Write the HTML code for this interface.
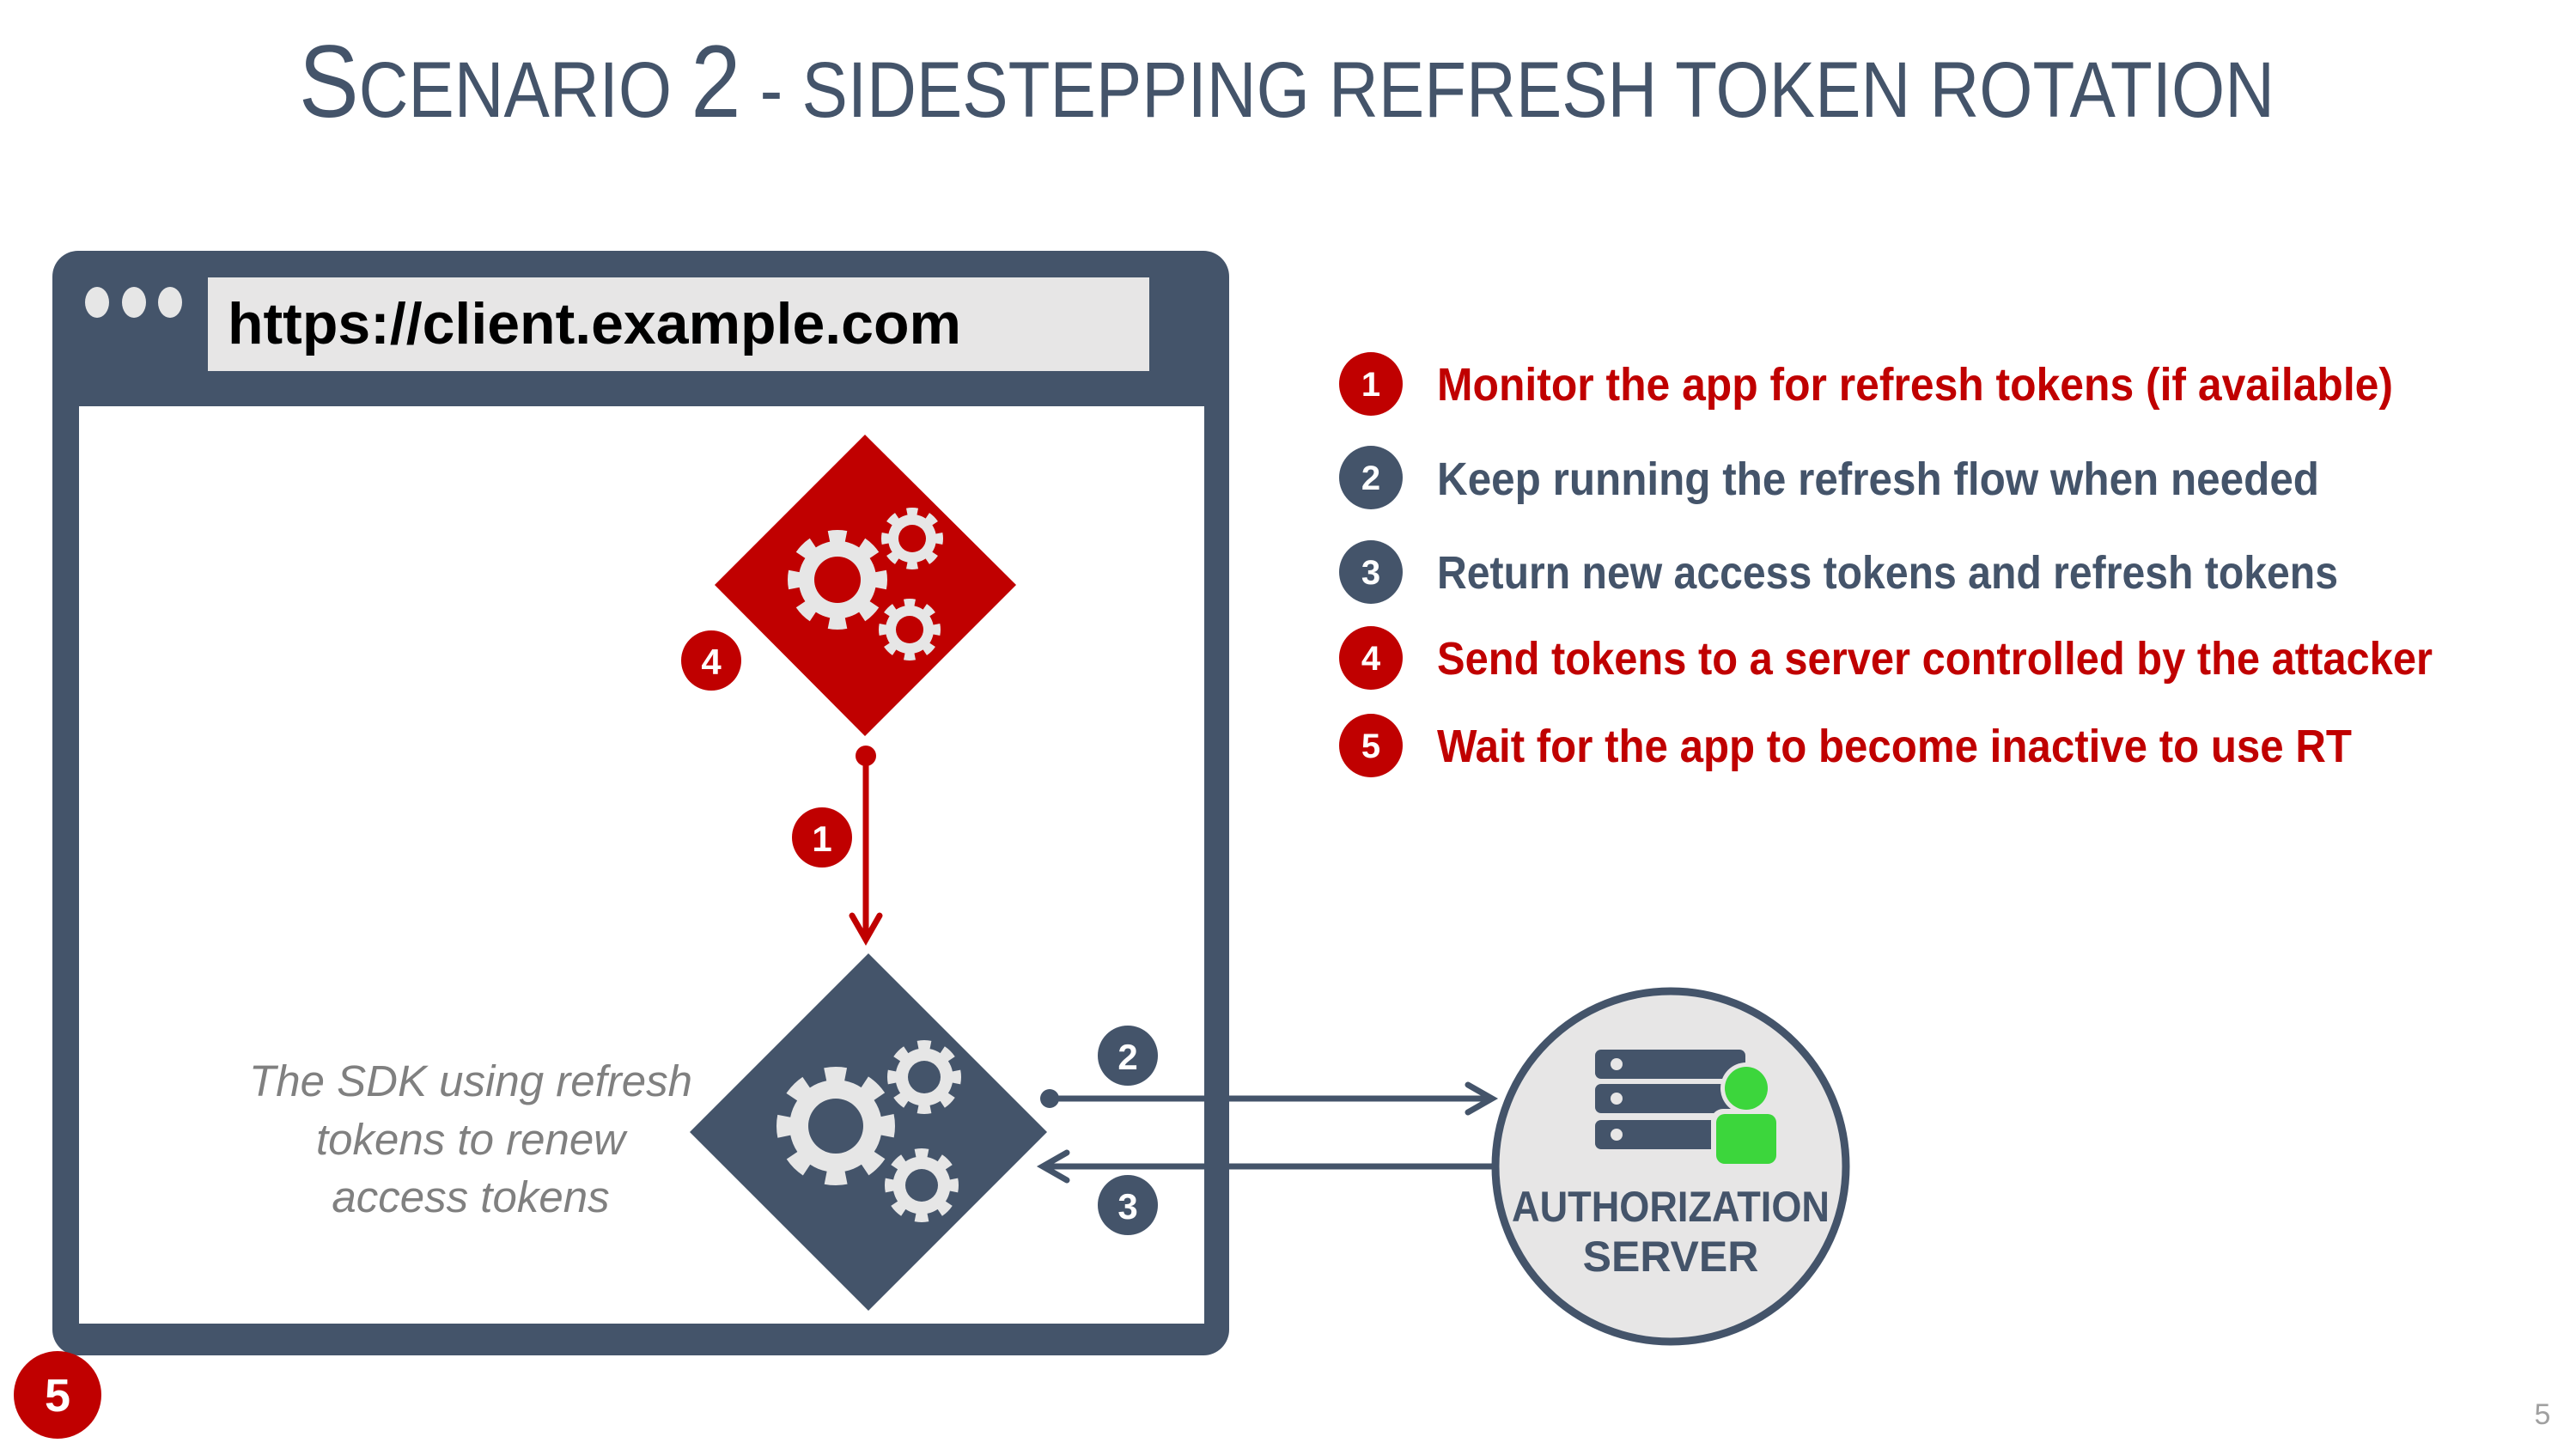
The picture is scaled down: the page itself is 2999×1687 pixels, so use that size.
<!DOCTYPE html>
<html><head><meta charset="utf-8"><style>
html,body{margin:0;padding:0;background:#fff;}
svg{display:block;}
text{font-family:"Liberation Sans",sans-serif;}
</style></head><body>
<svg width="2999" height="1687" viewBox="0 0 2999 1687" xmlns="http://www.w3.org/2000/svg">
<defs>
<symbol id="gear" viewBox="-100 -100 200 200">
<circle r="78" fill="#e6e6e6"/>
<circle r="88" fill="none" stroke="#e6e6e6" stroke-width="24" pathLength="16" stroke-dasharray="1 1" stroke-dashoffset="0.5"/>
</symbol>
</defs>
<!-- title -->
<text x="348" y="136" fill="#44546a" textLength="2300" lengthAdjust="spacingAndGlyphs" style="font-size:120px"><tspan>S</tspan><tspan style="font-size:92px">CENARIO </tspan><tspan>2</tspan><tspan style="font-size:92px"> - SIDESTEPPING REFRESH TOKEN ROTATION</tspan></text>

<!-- browser -->
<rect x="61" y="292" width="1370" height="1286" rx="30" fill="#44546a"/>
<rect x="92" y="473" width="1310" height="1068" fill="#fff"/>
<ellipse cx="113" cy="352" rx="14" ry="18" fill="#e6e6e6"/>
<ellipse cx="156" cy="352" rx="14" ry="18" fill="#e6e6e6"/>
<ellipse cx="198" cy="352" rx="14" ry="18" fill="#e6e6e6"/>
<rect x="242" y="323" width="1096" height="109" fill="#e7e6e6"/>
<text x="265" y="400" font-weight="bold" font-size="68" fill="#000" textLength="854" lengthAdjust="spacingAndGlyphs">https://client.example.com</text>

<!-- red diamond -->
<polygon points="1007,506 1183,681 1007,857 832,681" fill="#c00000"/>
<use href="#gear" x="917" y="617" width="116" height="116"/>
<circle cx="975" cy="675" r="27" fill="#c00000"/>
<use href="#gear" x="1026" y="591" width="72" height="72"/>
<circle cx="1062" cy="627" r="16" fill="#c00000"/>
<use href="#gear" x="1023" y="697" width="72" height="72"/>
<circle cx="1059" cy="733" r="16" fill="#c00000"/>

<!-- red arrow -->
<circle cx="1008" cy="880" r="12" fill="#c00000"/>
<line x1="1008" y1="880" x2="1008" y2="1088" stroke="#c00000" stroke-width="7"/>
<polyline points="992,1066 1008,1094 1024,1066" fill="none" stroke="#c00000" stroke-width="7" stroke-linecap="round"/>

<!-- gray diamond -->
<polygon points="1011,1110 1219,1318 1011,1526 803,1318" fill="#44546a"/>
<use href="#gear" x="904" y="1242" width="138" height="138"/>
<circle cx="973" cy="1311" r="32" fill="#44546a"/>
<use href="#gear" x="1033" y="1211" width="86" height="86"/>
<circle cx="1076" cy="1254" r="19" fill="#44546a"/>
<use href="#gear" x="1030" y="1337" width="86" height="86"/>
<circle cx="1073" cy="1380" r="19" fill="#44546a"/>

<!-- SDK text -->
<g font-style="italic" font-size="51" fill="#808080" text-anchor="middle">
<text x="548" y="1276">The SDK using refresh</text>
<text x="548" y="1344">tokens to renew</text>
<text x="548" y="1411">access tokens</text>
</g>

<!-- arrows 2 & 3 -->
<circle cx="1222" cy="1279" r="11" fill="#44546a"/>
<line x1="1222" y1="1279" x2="1733" y2="1279" stroke="#44546a" stroke-width="7"/>
<polyline points="1709,1263 1737,1279 1709,1295" fill="none" stroke="#44546a" stroke-width="7" stroke-linecap="round"/>
<line x1="1742" y1="1358" x2="1218" y2="1358" stroke="#44546a" stroke-width="7"/>
<polyline points="1242,1342 1214,1358 1242,1374" fill="none" stroke="#44546a" stroke-width="7" stroke-linecap="round"/>

<!-- auth server -->
<circle cx="1945" cy="1358" r="204" fill="#e7e6e6" stroke="#44546a" stroke-width="9"/>
<rect x="1857" y="1222" width="175" height="34" rx="7" fill="#44546a"/>
<rect x="1857" y="1262" width="175" height="34" rx="7" fill="#44546a"/>
<rect x="1857" y="1304" width="175" height="34" rx="7" fill="#44546a"/>
<circle cx="1882" cy="1239" r="7" fill="#e7e6e6"/>
<circle cx="1882" cy="1279" r="7" fill="#e7e6e6"/>
<circle cx="1882" cy="1321" r="7" fill="#e7e6e6"/>
<circle cx="2033" cy="1267" r="30" fill="#e7e6e6"/>
<rect x="1992" y="1291" width="80" height="70" rx="14" fill="#e7e6e6"/>
<circle cx="2033" cy="1267" r="25" fill="#3cd63c"/>
<rect x="1998" y="1297" width="70" height="58" rx="10" fill="#3cd63c"/>
<g font-weight="bold" font-size="50" fill="#44546a" text-anchor="middle">
<text x="1945" y="1422" textLength="370" lengthAdjust="spacingAndGlyphs">AUTHORIZATION</text>
<text x="1945" y="1480">SERVER</text>
</g>

<!-- flow badges -->
<g font-weight="bold" fill="#fff" text-anchor="middle">
<circle cx="828" cy="769" r="35" fill="#c00000"/><text x="828" y="785" font-size="42">4</text>
<circle cx="957" cy="975" r="35" fill="#c00000"/><text x="957" y="991" font-size="42">1</text>
<circle cx="1313" cy="1229" r="35" fill="#44546a"/><text x="1313" y="1245" font-size="42">2</text>
<circle cx="1313" cy="1403" r="35" fill="#44546a"/><text x="1313" y="1419" font-size="42">3</text>
<circle cx="67" cy="1624" r="51" fill="#c00000"/><text x="67" y="1643" font-size="54">5</text>
</g>

<!-- list -->
<g font-weight="bold" text-anchor="middle" fill="#fff" font-size="40">
<circle cx="1596" cy="447" r="37" fill="#c00000"/><text x="1596" y="461">1</text>
<circle cx="1596" cy="556" r="37" fill="#44546a"/><text x="1596" y="570">2</text>
<circle cx="1596" cy="666" r="37" fill="#44546a"/><text x="1596" y="680">3</text>
<circle cx="1596" cy="766" r="37" fill="#c00000"/><text x="1596" y="780">4</text>
<circle cx="1596" cy="868" r="37" fill="#c00000"/><text x="1596" y="882">5</text>
</g>
<g font-weight="bold" font-size="54">
<text x="1673" y="466" fill="#c00000" textLength="1113" lengthAdjust="spacingAndGlyphs">Monitor the app for refresh tokens (if available)</text>
<text x="1673" y="576" fill="#44546a" textLength="1027" lengthAdjust="spacingAndGlyphs">Keep running the refresh flow when needed</text>
<text x="1673" y="685" fill="#44546a" textLength="1049" lengthAdjust="spacingAndGlyphs">Return new access tokens and refresh tokens</text>
<text x="1673" y="785" fill="#c00000" textLength="1159" lengthAdjust="spacingAndGlyphs">Send tokens to a server controlled by the attacker</text>
<text x="1673" y="887" fill="#c00000" textLength="1065" lengthAdjust="spacingAndGlyphs">Wait for the app to become inactive to use RT</text>
</g>

<text x="2960" y="1658" font-size="34" fill="#a0a0a0" text-anchor="middle">5</text>
</svg>
</body></html>
